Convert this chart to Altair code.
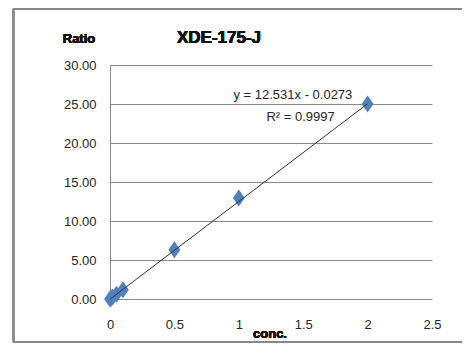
import altair as alt
import pandas as pd

# data
conc = [0, 0.01, 0.02, 0.05, 0.1, 0.5, 1, 2]
ratio = [0.0, 0.12, 0.25, 0.6, 1.2, 6.3, 12.95, 25.0]
slope = 12.531
intercept = -0.0273
x_ticks = [0, 0.5, 1, 1.5, 2, 2.5]
y_ticks = [0, 5, 10, 15, 20, 25, 30]
eq_text = ["y = 12.531x - 0.0273", "R² = 0.9997"]
eq_x = [1.42, 1.48]
eq_y = [26.15, 23.3]

FONT = "Liberation Sans, Arial, sans-serif"
GRID = "#8a8a8a"
BLUE = "#4F81BD"

pts = pd.DataFrame({"conc": conc, "ratio": ratio})
trend = pd.DataFrame({"conc": [0, 2], "ratio": [intercept, slope * 2 + intercept]})
eqs = pd.DataFrame({"t": eq_text, "x": eq_x, "y": eq_y})

xs = alt.Scale(domain=[0, 2.5], nice=False, zero=False)
ys = alt.Scale(domain=[0, 30], nice=False, zero=False)

xaxis = alt.Axis(values=x_ticks, format="~g", grid=False, domain=False, ticks=False,
                 labelFont=FONT, labelFontSize=13, labelColor="#262626",
                 labelPadding=19, title=None, labelFlush=False, labelOverlap=False)
yaxis = alt.Axis(values=y_ticks, format=".2f", grid=True, gridColor=GRID, gridWidth=1,
                 domain=True, domainColor=GRID, domainWidth=1, ticks=False,
                 labelFont=FONT, labelFontSize=13, labelColor="#262626",
                 labelPadding=14, title=None, labelOverlap=False, labelFlush=False)

points = alt.Chart(pts).mark_point(
    shape="M0,-1L0.7,0L0,1L-0.7,0Z", size=289, filled=True, color=BLUE, opacity=1
).encode(
    x=alt.X("conc:Q", scale=xs, axis=xaxis),
    y=alt.Y("ratio:Q", scale=ys, axis=yaxis),
)

line = alt.Chart(trend).mark_line(color="#333333", strokeWidth=1).encode(
    x=alt.X("conc:Q", scale=xs, axis=xaxis),
    y=alt.Y("ratio:Q", scale=ys, axis=yaxis),
)

eqlab = alt.Chart(eqs).mark_text(
    font=FONT, fontSize=13, color="#262626", align="center", baseline="middle"
).encode(
    x=alt.X("x:Q", scale=xs, axis=xaxis),
    y=alt.Y("y:Q", scale=ys, axis=yaxis),
    text="t:N",
)

title = alt.Chart(pts).mark_text(
    font=FONT, fontSize=17, fontWeight="bold", color="#111111",
    align="center", baseline="middle", text="XDE-175-J"
).encode(x=alt.value(109), y=alt.value(-27))

ylab = alt.Chart(pts).mark_text(
    font=FONT, fontSize=13, fontWeight="bold", color="#111111",
    align="center", baseline="middle", text="Ratio"
).encode(x=alt.value(-31), y=alt.value(-26))

xlab = alt.Chart(pts).mark_text(
    font=FONT, fontSize=13, fontWeight="bold", color="#111111",
    align="center", baseline="middle", text="conc."
).encode(x=alt.value(160), y=alt.value(269))

# outer chart border (top, left, bottom)
b_top = alt.Chart(pts).mark_rule(color="#888888", strokeWidth=1.5).encode(
    x=alt.value(-96.5), x2=alt.value(352), y=alt.value(-56.2))
b_left = alt.Chart(pts).mark_rule(color="#888888", strokeWidth=1.5).encode(
    x=alt.value(-96.5), y=alt.value(-56.2), y2=alt.value(277))
b_bot = alt.Chart(pts).mark_rule(color="#888888", strokeWidth=1.5).encode(
    x=alt.value(-96.5), x2=alt.value(352), y=alt.value(277))

chart = alt.layer(b_top, b_left, b_bot, points, line, eqlab, title, ylab, xlab).properties(
    width=322, height=234,
    autosize=alt.AutoSizeParams(type="none"),
    padding={"left": 102, "top": 57, "right": 30, "bottom": 44},
    background="white",
).configure_view(stroke=None)

chart.save("out.html", embed_options={"renderer": "svg", "actions": False})
